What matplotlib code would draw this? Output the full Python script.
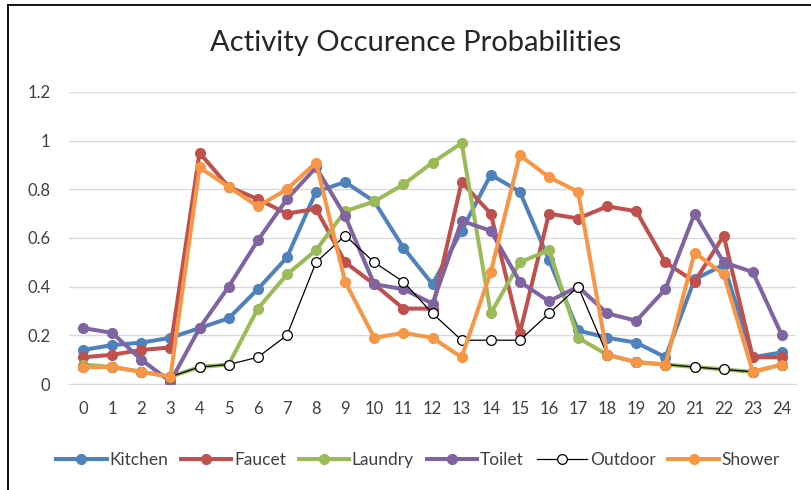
import matplotlib.pyplot as plt
from matplotlib.lines import Line2D

hours = list(range(25))

kitchen = [0.14, 0.16, 0.17, 0.19, 0.23, 0.27, 0.39, 0.52, 0.79, 0.83, 0.75, 0.56, 0.41,
           0.63, 0.86, 0.79, 0.51, 0.22, 0.19, 0.17, 0.11, 0.43, 0.49, 0.11, 0.13]
faucet = [0.11, 0.12, 0.14, 0.15, 0.95, 0.81, 0.76, 0.70, 0.72, 0.50, 0.41, 0.31, 0.31,
          0.83, 0.70, 0.21, 0.70, 0.68, 0.73, 0.71, 0.50, 0.42, 0.61, 0.11, 0.11]
laundry = [0.08, 0.07, 0.05, 0.03, 0.07, 0.08, 0.31, 0.45, 0.55, 0.71, 0.75, 0.82, 0.91,
           0.99, 0.29, 0.50, 0.55, 0.19, 0.12, 0.09, 0.08, 0.07, 0.06, 0.05, 0.08]
toilet = [0.23, 0.21, 0.10, 0.01, 0.23, 0.40, 0.59, 0.76, 0.89, 0.69, 0.41, 0.39, 0.33,
          0.67, 0.63, 0.42, 0.34, 0.40, 0.29, 0.26, 0.39, 0.70, 0.50, 0.46, 0.20]
outdoor = [0.07, 0.07, 0.05, 0.03, 0.07, 0.08, 0.11, 0.20, 0.50, 0.61, 0.50, 0.42, 0.29,
           0.18, 0.18, 0.18, 0.29, 0.40, 0.12, 0.09, 0.08, 0.07, 0.06, 0.05, 0.08]
shower = [0.07, 0.07, 0.05, 0.03, 0.89, 0.81, 0.73, 0.80, 0.91, 0.42, 0.19, 0.21, 0.19,
          0.11, 0.46, 0.94, 0.85, 0.79, 0.12, 0.09, 0.08, 0.54, 0.45, 0.05, 0.08]

plt.rcParams["font.family"] = ["Lato", "DejaVu Sans"]

fig = plt.figure(figsize=(8.11, 4.9), dpi=100)
ax = fig.add_axes([0.0845, 0.2163, 0.8976, 0.596])

series = [
    ("Kitchen", kitchen, "#4F81BD"),
    ("Faucet", faucet, "#C0504D"),
    ("Laundry", laundry, "#9BBB59"),
    ("Toilet", toilet, "#8064A2"),
    ("Outdoor", outdoor, None),
    ("Shower", shower, "#F79646"),
]

for name, vals, color in series:
    if color is None:
        ax.plot(hours, vals, "-o", color="black", lw=0.9, markersize=7,
                markerfacecolor="white", markeredgecolor="black",
                markeredgewidth=0.9, label=name, zorder=3)
    else:
        ax.plot(hours, vals, "-o", color=color, lw=2.9, markersize=7,
                label=name, zorder=3)

ax.set_xlim(-0.5, 24.5)
ax.set_ylim(0, 1.2)
ax.set_xticks(hours)
ax.set_yticks([0, 0.2, 0.4, 0.6, 0.8, 1, 1.2])
ax.set_yticklabels(["0", "0.2", "0.4", "0.6", "0.8", "1", "1.2"])
ax.grid(axis="y", color="#D9D9D9", lw=1)
ax.set_axisbelow(True)
for s in ["top", "right", "left"]:
    ax.spines[s].set_visible(False)
ax.spines["bottom"].set_color("#D9D9D9")
ax.tick_params(axis="both", length=0, labelsize=12, colors="#404040")
ax.tick_params(axis="x", pad=12)
ax.tick_params(axis="y", pad=13)

fig.text(0.513, 0.912, "Activity Occurence Probabilities", ha="center",
         va="center", fontsize=21, color="#262626")

ax.legend(loc="center", bbox_to_anchor=(0.48, -0.26), ncol=6, frameon=False,
          fontsize=12.5, handlelength=2.9, columnspacing=0.75, handletextpad=0.15,
          labelcolor="#404040")

# chart-area border (cropped: only top and left edges visible)
fig.add_artist(Line2D([8 / 811, 8 / 811], [0, 1 - 5 / 490], color="black", lw=1.3,
                      transform=fig.transFigure))
fig.add_artist(Line2D([8 / 811, 1], [1 - 5 / 490, 1 - 5 / 490], color="black", lw=1.3,
                      transform=fig.transFigure))

fig.savefig("out.png", dpi=100)
